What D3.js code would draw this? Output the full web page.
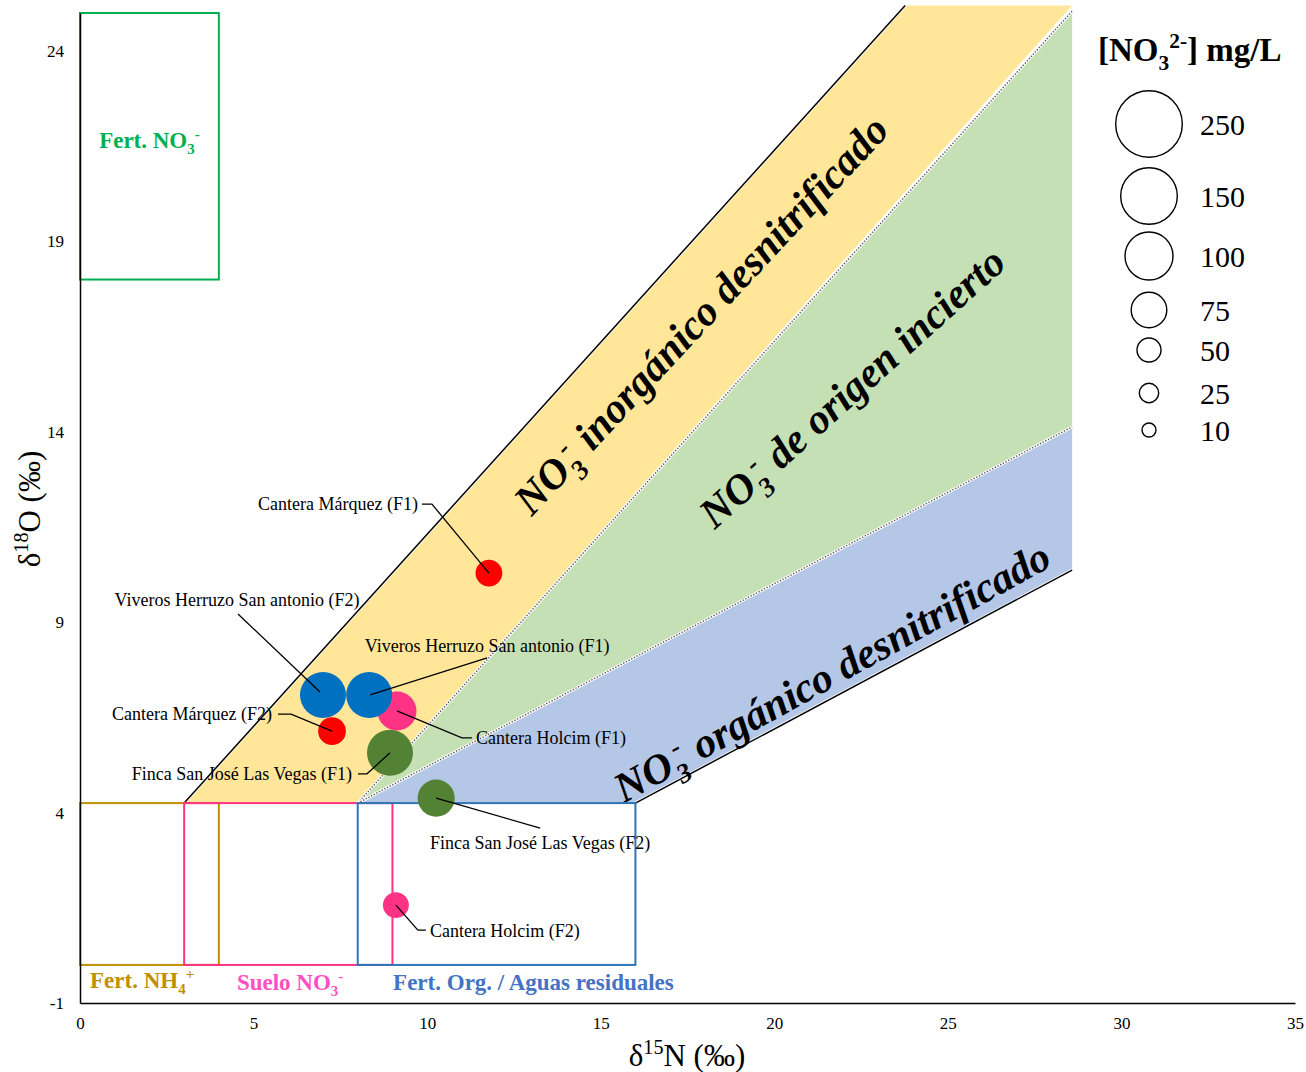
<!DOCTYPE html>
<html>
<head>
<meta charset="utf-8">
<script src="https://cdn.jsdelivr.net/npm/d3@7"></script>
<style>
  body { margin: 0; background: #fff; }
  svg { display: block; }
  text { font-family: "Liberation Serif", "Times New Roman", serif; fill: #000; }
</style>
</head>
<body>
<svg id="chart" width="1306" height="1072"></svg>
<script>
// ---- Sampled sites: δ15N, δ18O (‰) and nitrate concentration (mg/L) ----
const sites = [
  "Cantera Holcim (F1)",
  "Viveros Herruzo San antonio (F2)",
  "Viveros Herruzo San antonio (F1)",
  "Cantera Márquez (F2)",
  "Finca San José Las Vegas (F1)",
  "Cantera Márquez (F1)",
  "Finca San José Las Vegas (F2)",
  "Cantera Holcim (F2)"
];
const siteGroups = [
  "Cantera Holcim", "Viveros Herruzo", "Viveros Herruzo", "Cantera Márquez",
  "Finca San José", "Cantera Márquez", "Finca San José", "Cantera Holcim"
];
const d15N    = [9.13, 7.00, 8.33, 7.26, 8.93, 11.78, 10.26, 9.10];
const d18O    = [6.67, 7.09, 7.09, 6.14, 5.57, 10.29, 4.38, 1.57];
const nitrate = [82, 96, 96, 58, 96, 56, 78, 54];

// Size legend
const legendValues = [250, 150, 100, 75, 50, 25, 10];

// Axis ticks
const xTicks = [0, 5, 10, 15, 20, 25, 30, 35];
const yTicks = [-1, 4, 9, 14, 19, 24];

// Source boxes [x0, x1, y0, y1] in ‰
const boxNames  = ["Fert. NO3", "Fert. NH4", "Suelo NO3", "Fert. Org"];
const boxX0 = [0, 0, 3, 8];
const boxX1 = [4, 4, 9, 16];
const boxY0 = [18, 0, 0, 0];
const boxY1 = [25, 4.25, 4.25, 4.25];

// Denitrification zones (vertices in ‰)
const zoneInorganic = [[3, 4.25], [23.77, 25.2], [28.58, 25.2], [8, 4.25]];
const zoneUncertain = [[8, 4.25], [28.58, 25.0], [28.58, 14.13]];
const zoneOrganic   = [[8, 4.25], [28.58, 14.13], [28.58, 10.37], [16, 4.25]];

// ---- Styling ----
const groupColor = d3.scaleOrdinal()
  .domain(["Cantera Márquez", "Viveros Herruzo", "Cantera Holcim", "Finca San José"])
  .range(["#FF0000", "#0070C0", "#FF3385", "#548235"]);
const boxColor = ["#00B050", "#BF9000", "#FF3385", "#2E75B6"];

// Label placement relative to each point (pixels): text offset, anchor, leader path
const labelLayout = [
  { dx: 79,   dy: 27,  anchor: "start",  leader: [[0, 0], [65, 27], [75, 27]] },
  { dx: -86,  dy: -95, anchor: "middle", leader: [[-85, -81], [-3, -3]] },
  { dx: 118,  dy: -49, anchor: "middle", leader: [[118, -37], [1, 0]] },
  { dx: -60,  dy: -17, anchor: "end",    leader: [[-54, -17], [-41, -17], [0, 0]] },
  { dx: -38,  dy: 21,  anchor: "end",    leader: [[-32, 21], [-23, 21], [0, 0]] },
  { dx: -71,  dy: -69, anchor: "end",    leader: [[-67, -69], [-57, -69], [0, 0]] },
  { dx: 104,  dy: 45,  anchor: "middle", leader: [[0, 0], [104, 30]] },
  { dx: 34,   dy: 26,  anchor: "start",  leader: [[0, 0], [22, 25], [30, 25]] }
];

const svg = d3.select("#chart");

const x = d3.scaleLinear().domain([0, 35]).range([80, 1295]);
const y = d3.scaleLinear().domain([-1, 25]).range([1003, 13]);

// Bubble radius (piecewise, follows the size legend)
const r = d3.scaleLinear()
  .domain([10, 25, 50, 75, 100, 150, 250])
  .range([7, 9.7, 12, 17.8, 24, 28.3, 33.3]);

// Rich text helper: parts with optional sub / sup
function rich(sel, parts, fs) {
  let shift = 0;
  parts.forEach(p => {
    let target = 0, size = fs;
    if (p.sub) { target = fs * 0.28; size = fs * 0.65; }
    if (p.sup) { target = -fs * 0.38; size = fs * 0.65; }
    const ts = sel.append("tspan").text(p.t)
      .attr("font-size", size)
      .attr("dy", target - shift);
    if (p.dx) ts.attr("dx", p.dx);
    shift = target;
  });
  return sel;
}

const toPx = pts => pts.map(([a, b]) => [x(a), y(b)]);
const poly = d3.line();

// ---- Zones ----
const zones = svg.append("g");
zones.append("path").attr("d", poly(toPx(zoneInorganic)) + "Z").attr("fill", "#FFE699");
zones.append("path").attr("d", poly(toPx(zoneUncertain)) + "Z").attr("fill", "#C5E0B4");
zones.append("path").attr("d", poly(toPx(zoneOrganic)) + "Z").attr("fill", "#B4C7E7");

function edge(p0, p1, dotted) {
  const d = poly(toPx([p0, p1]));
  zones.append("path").attr("d", d).attr("stroke", "#fff").attr("stroke-width", 3).attr("fill", "none");
  zones.append("path").attr("d", d)
    .attr("stroke", dotted ? "#595959" : "#000")
    .attr("stroke-width", dotted ? 1.4 : 1.5)
    .attr("stroke-dasharray", dotted ? "1.4,1.6" : null)
    .attr("fill", "none");
}
edge(zoneInorganic[0], zoneInorganic[1], false);
edge(zoneOrganic[3], zoneOrganic[2], false);
edge([8, 4.25], [28.58, 25.05], true);
edge(zoneUncertain[0], zoneUncertain[2], true);

// Zone titles (centre in ‰, angle in degrees)
const zoneLabels = [
  { cx: 17.89, cy: 17.07, angle: 47, rest: " inorgánico desnitrificado" },
  { cx: 22.24, cy: 15.16, angle: 42, rest: " de origen incierto" },
  { cx: 21.66, cy: 7.69,  angle: 29, rest: " orgánico desnitrificado" }
];
zoneLabels.forEach(z => {
  const t = svg.append("text")
    .attr("transform", `translate(${x(z.cx)},${y(z.cy)}) rotate(${-z.angle})`)
    .attr("y", 14)
    .attr("text-anchor", "middle")
    .attr("font-weight", "bold")
    .attr("font-style", "italic");
  rich(t, [{ t: "NO" }, { t: "3", sub: true }, { t: "-", sup: true, dx: -7 }, { t: z.rest, dx: 2 }], 42);
});

// ---- Source boxes ----
const boxes = svg.append("g");
[1, 2, 3, 0].forEach(i => {
  boxes.append("rect")
    .attr("x", x(boxX0[i])).attr("y", y(boxY1[i]))
    .attr("width", x(boxX1[i]) - x(boxX0[i]))
    .attr("height", y(boxY0[i]) - y(boxY1[i]))
    .attr("fill", "none")
    .attr("stroke", boxColor[i])
    .attr("stroke-width", 2);
});

// Box titles (baseline sits 7px below the given position)
const bl = (px, py, color, parts, anchor) => {
  const t = svg.append("text")
    .attr("x", x(px)).attr("y", y(py) + 7)
    .attr("text-anchor", anchor || "start")
    .attr("font-weight", "bold")
    .style("fill", color);
  rich(t, parts, 23);
};
bl(2, 21.64, "#00B050", [{ t: "Fert. NO" }, { t: "3", sub: true }, { t: "-", sup: true }], "middle");
bl(0.29, -0.42, "#BF9000", [{ t: "Fert. NH" }, { t: "4", sub: true }, { t: "+", sup: true }]);
bl(4.52, -0.47, "#FF4FC3", [{ t: "Suelo NO" }, { t: "3", sub: true }, { t: "-", sup: true }]);
bl(9.02, -0.47, "#4472C4", [{ t: "Fert. Org. / Aguas residuales" }]);

// ---- Axes ----
const xAxis = svg.append("g").attr("transform", `translate(0,${y(-1)})`)
  .call(d3.axisBottom(x).tickValues(xTicks).tickFormat(d => String(d)).tickSize(0).tickPadding(14));
const yAxis = svg.append("g").attr("transform", `translate(${x(0)},0)`)
  .call(d3.axisLeft(y).tickValues(yTicks).tickFormat(d => String(d)).tickSize(0).tickPadding(16));
[xAxis, yAxis].forEach(a => {
  a.select(".domain").attr("stroke", "#000").attr("stroke-width", 1.5);
  a.selectAll("text").attr("font-size", 17)
    .attr("font-family", "'Liberation Serif','Times New Roman',serif").style("fill", "#000");
});

const xt = svg.append("text").attr("x", 687).attr("y", 1066).attr("text-anchor", "middle");
rich(xt, [{ t: "δ" }, { t: "15", sup: true }, { t: "N (‰)" }], 31);
const yt = svg.append("text").attr("transform", "translate(40,509) rotate(-90)").attr("text-anchor", "middle");
rich(yt, [{ t: "δ" }, { t: "18", sup: true }, { t: "O (‰)" }], 31);

// ---- Data bubbles ----
const pts = sites.map((s, i) => ({
  name: s, cx: x(d15N[i]), cy: y(d18O[i]), r: r(nitrate[i]),
  color: groupColor(siteGroups[i]), lay: labelLayout[i]
}));

svg.append("g").selectAll("circle").data(pts).join("circle")
  .attr("cx", d => d.cx).attr("cy", d => d.cy).attr("r", d => d.r)
  .attr("fill", d => d.color);

svg.append("g").selectAll("path").data(pts).join("path")
  .attr("d", d => poly(d.lay.leader.map(([a, b]) => [d.cx + a, d.cy + b])))
  .attr("fill", "none").attr("stroke", "#000").attr("stroke-width", 1.3);

svg.append("g").selectAll("text").data(pts).join("text")
  .attr("x", d => d.cx + d.lay.dx).attr("y", d => d.cy + d.lay.dy)
  .attr("dy", "0.33em")
  .attr("text-anchor", d => d.lay.anchor)
  .attr("font-size", 18)
  .text(d => d.name);

// ---- Size legend ----
const legendY = [124, 196, 256, 310, 350, 393, 430];
const lt = svg.append("text").attr("x", 1098).attr("y", 61).attr("font-weight", "bold");
rich(lt, [{ t: "[NO" }, { t: "3", sub: true }, { t: "2-", sup: true }, { t: "] mg/L" }], 33);

const lg = svg.append("g").selectAll("g").data(legendValues).join("g")
  .attr("transform", (d, i) => `translate(1149,${legendY[i]})`);
lg.append("circle").attr("r", d => r(d)).attr("fill", "none").attr("stroke", "#000").attr("stroke-width", 1.4);
lg.append("text").attr("x", 51).attr("dy", "0.35em").attr("font-size", 30).text(d => d);
</script>
</body>
</html>
